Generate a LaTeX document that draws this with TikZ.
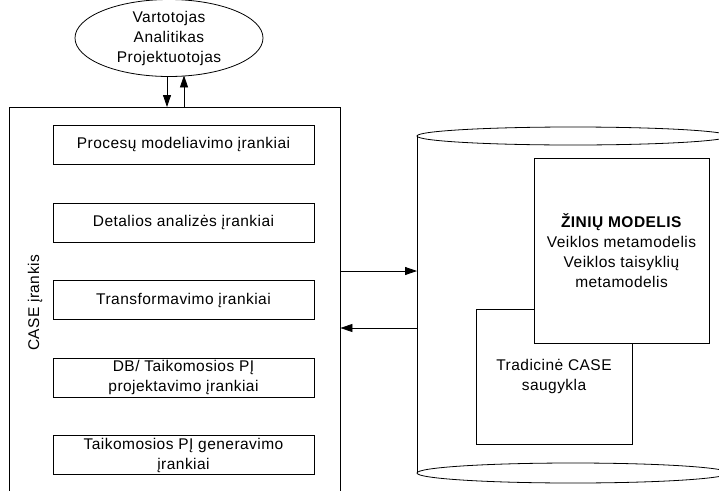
\documentclass[tikz,border=0pt]{standalone}
\usepackage{fontspec}
\setmainfont[LetterSpace=3]{Liberation Sans}
\usetikzlibrary{shapes.geometric,arrows.meta,calc}
\begin{document}
\begin{tikzpicture}[x=1pt,y=-1pt,
  every node/.style={font=\fontsize{15.5}{20}\selectfont, align=center, inner sep=0pt},
  ln/.style={line width=0.8pt, draw=black},
  tool/.style={ln, rectangle, minimum width=261pt, minimum height=39pt, fill=white},
  arr/.style={line width=0.8pt, -{Triangle[length=12pt,width=8pt]}}]
\useasboundingbox (0,0) rectangle (719,490);
\clip (0,0) rectangle (719,490);
% cylinder (knowledge repository)
\draw[ln] (417,136) -- (417,473);
\draw[ln] (729,136) -- (729,473);
\draw[ln, fill=white] (573,136) ellipse [x radius=156, y radius=9];
\draw[ln] (573,473) ellipse [x radius=156, y radius=10];
\coordinate (cylA) at (417,271);
\coordinate (cylB) at (417,328);
% users
\node[ln, ellipse, minimum width=188pt, minimum height=74pt] (users) at (169,38)
  {Vartotojas\\Analitikas\\Projektuotojas};
% CASE tool
\node[ln, rectangle, minimum width=331pt, minimum height=400pt, anchor=north] (case) at (174.5,107) {};
\node[rotate=90] (caselbl) at (35,303) {CASE įrankis};
\node[tool] (t1) at (183.5,144.5) {Procesų modeliavimo įrankiai};
\node[tool] (t2) at (183.5,222.5) {Detalios analizės įrankiai};
\node[tool] (t3) at (183.5,300) {Transformavimo įrankiai};
\node[tool] (t4) at (183.5,377.5) {DB/ Taikomosios PĮ\\projektavimo įrankiai};
\node[tool] (t5) at (183.5,455) {Taikomosios PĮ generavimo\\įrankiai};
% arrows between users and CASE
\draw[arr] ([xshift=-2pt]users.south) -- ([xshift=-2pt]users.south |- case.north);
\draw[arr] ([xshift=15pt]users.south |- case.north) -- ($(users.south)+(15,-1.5)$);
% repository content
\node[ln, rectangle, minimum width=156pt, minimum height=135pt, fill=white] (trad) at (554,376.5)
  {Tradicinė CASE\\saugykla};
\node[ln, rectangle, minimum width=175pt, minimum height=185pt, fill=white] (zm) at (621.5,250.5)
  {\textbf{ŽINIŲ MODELIS}\\Veiklos metamodelis\\Veiklos taisyklių\\metamodelis};
% arrows between CASE and repository
\draw[arr] (case.east |- cylA) -- (cylA);
\draw[arr] (cylB) -- (case.east |- cylB);
\end{tikzpicture}
\end{document}
